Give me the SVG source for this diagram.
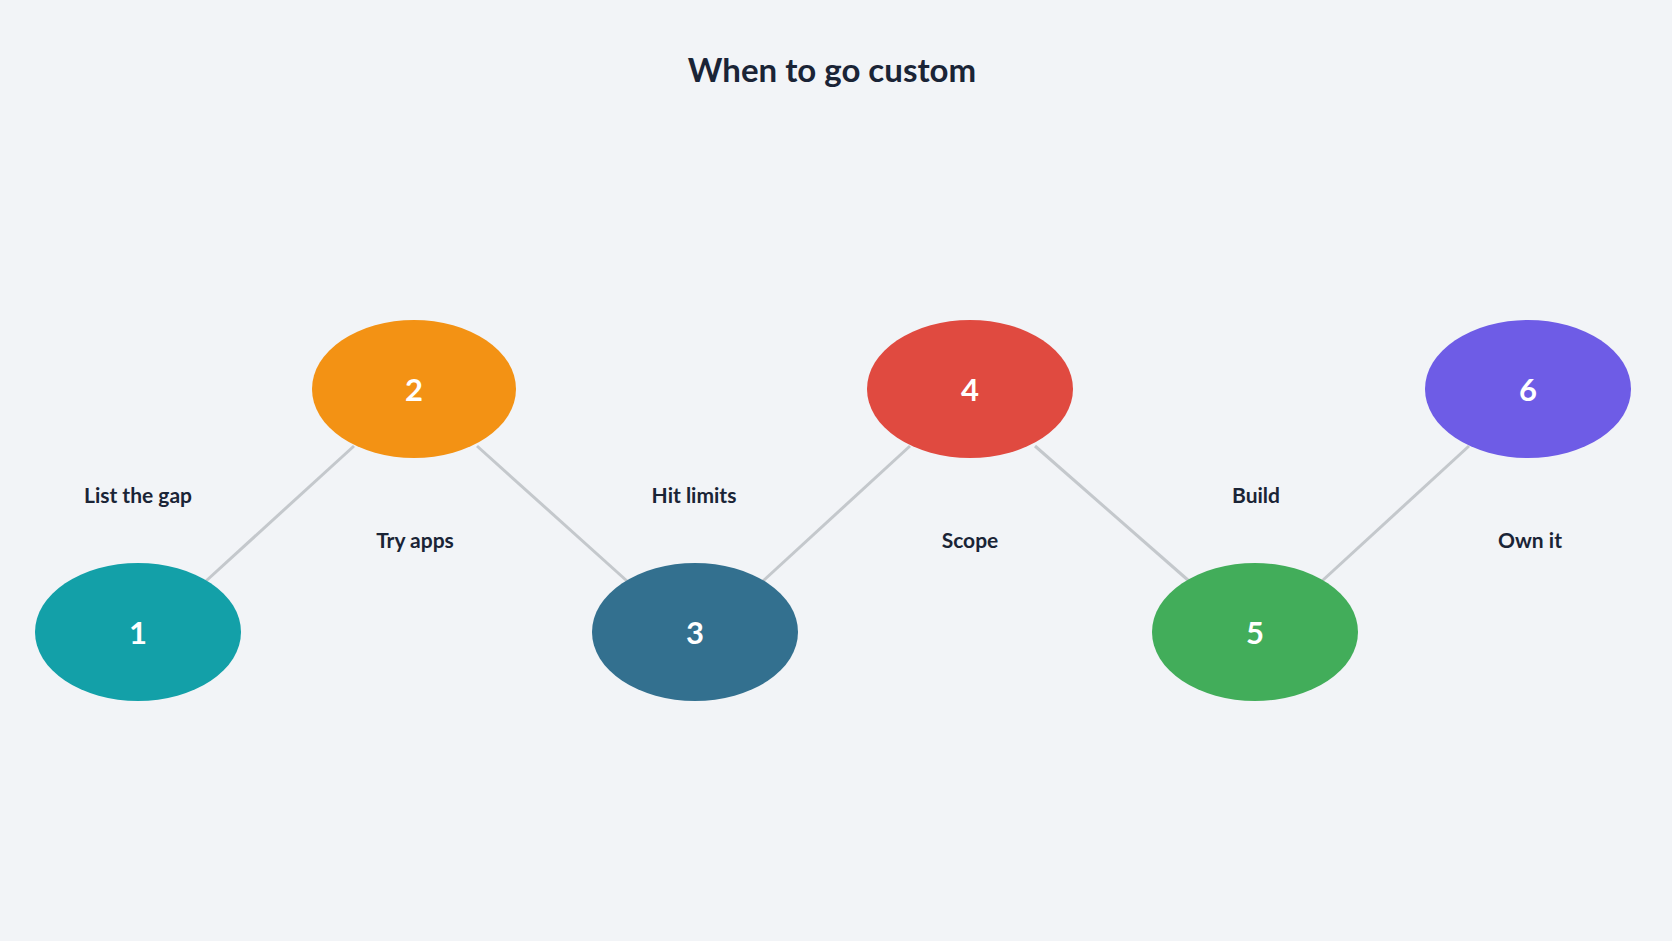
<svg xmlns="http://www.w3.org/2000/svg" width="1672" height="941" viewBox="0 0 1672 941">
<style>
.n{font-family:"Lato","Noto Sans",sans-serif;font-weight:bold;font-size:31px;fill:#fff;text-anchor:middle;dominant-baseline:central}
.l{font-family:"Lato","Noto Sans",sans-serif;font-weight:bold;font-size:21px;fill:#1a2436;text-anchor:middle;dominant-baseline:central}
.c line{stroke:#c4c8cc;stroke-width:3}
</style>
<rect width="1672" height="941" fill="#f2f4f7"/>
<text x="832" y="69" class="l" style="font-size:33px">When to go custom</text>
<g class="c" id="connectors">
<line x1="206" y1="581" x2="354" y2="446"/>
<line x1="477" y1="446" x2="627" y2="581"/>
<line x1="763" y1="581" x2="910" y2="446"/>
<line x1="1035" y1="446" x2="1189" y2="581"/>
<line x1="1322" y1="581" x2="1469" y2="446"/>
</g>
<g id="n1"><ellipse cx="138" cy="632" rx="103" ry="69" fill="#13a0a8"/><text x="138" y="632" class="n">1</text><text x="138" y="494" class="l">List the gap</text></g>
<g id="n2"><ellipse cx="414" cy="389" rx="102" ry="69" fill="#f39214"/><text x="414" y="389" class="n">2</text><text x="415" y="539" class="l">Try apps</text></g>
<g id="n3"><ellipse cx="695" cy="632" rx="103" ry="69" fill="#33708f"/><text x="695" y="632" class="n">3</text><text x="694" y="494" class="l">Hit limits</text></g>
<g id="n4"><ellipse cx="970" cy="389" rx="103" ry="69" fill="#e04a40"/><text x="970" y="389" class="n">4</text><text x="970" y="539" class="l">Scope</text></g>
<g id="n5"><ellipse cx="1255" cy="632" rx="103" ry="69" fill="#42ad5a"/><text x="1255" y="632" class="n">5</text><text x="1256" y="494" class="l">Build</text></g>
<g id="n6"><ellipse cx="1528" cy="389" rx="103" ry="69" fill="#6e5ce6"/><text x="1528" y="389" class="n">6</text><text x="1530" y="539" class="l">Own it</text></g>
</svg>
